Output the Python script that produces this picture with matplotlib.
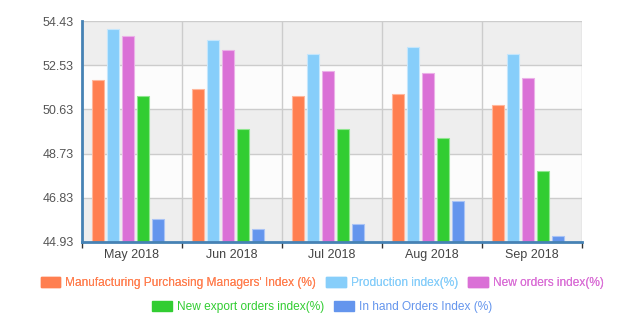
import matplotlib
matplotlib.use("Agg")
import matplotlib.pyplot as plt
from matplotlib.patches import Patch
import numpy as np

categories = ["May 2018", "Jun 2018", "Jul 2018", "Aug 2018", "Sep 2018"]
series_names = ["Manufacturing Purchasing Managers' Index (%)", "Production index(%)",
                "New orders index(%)", "New export orders index(%)", "In hand Orders Index (%)"]
pmi = [51.9, 51.5, 51.2, 51.3, 50.8]
production = [54.1, 53.6, 53.0, 53.3, 53.0]
new_orders = [53.8, 53.2, 52.3, 52.2, 52.0]
new_export = [51.2, 49.8, 49.8, 49.4, 48.0]
in_hand = [45.9, 45.5, 45.7, 46.7, 45.2]
yticks = [44.93, 46.83, 48.73, 50.63, 52.53, 54.43]

colors = ["#ff7f50", "#87cefa", "#da70d6", "#32cd32", "#6495ed"]
edges = ["#ffb79c", "#c4e6fc", "#ebb0e8", "#8fe68f", "#a9c3f5"]
all_series = [pmi, production, new_orders, new_export, in_hand]

plt.rcParams['font.family'] = ['Liberation Sans', 'DejaVu Sans']

fig = plt.figure(figsize=(6.21, 3.25), dpi=100)
ax = fig.add_axes([82/621, 1-242/325, 500/621, 221/325])

# alternating bands
for i in range(len(yticks)-1):
    col = "#eeeeee" if i % 2 == 0 else "#fcfcfc"
    ax.axhspan(yticks[i], yticks[i+1], color=col, zorder=0, lw=0)
for y in yticks[1:]:
    ax.axhline(y, color="#cccccc", lw=1, zorder=1)
for xg in range(1, 6):
    ax.axvline(xg, color="#cccccc", lw=1, zorder=1)

x = np.arange(len(categories))
for k, vals in enumerate(all_series):
    ax.bar(x + 0.10 + k*0.15, vals, width=0.12, align='edge', color=colors[k],
           edgecolor=edges[k], linewidth=0.8, zorder=2)

ax.set_xlim(0, 5)
ax.set_ylim(yticks[0], yticks[-1])
ax.set_yticks(yticks)
ax.set_yticklabels([f"{v:.2f}" for v in yticks])
ax.tick_params(axis='y', length=0, labelsize=9, labelcolor="#555555", pad=6)
ax.set_xticks(np.arange(6))
ax.set_xticklabels([])
ax.set_xticks(x + 0.5, minor=True)
ax.set_xticklabels(categories, minor=True)
ax.tick_params(axis='x', which='major', length=4, width=1, color="#333333", direction='out')
ax.tick_params(axis='x', which='minor', length=0, labelsize=9, labelcolor="#444444", pad=5)

for s in ["top", "right"]:
    ax.spines[s].set_visible(False)
ax.spines["left"].set_color("#4682b4")
ax.spines["left"].set_linewidth(2)
ax.spines["bottom"].set_color("#4682b4")
ax.spines["bottom"].set_linewidth(2)
ax.spines["left"].set_zorder(3)
ax.spines["bottom"].set_zorder(3)

handles = [Patch(facecolor=colors[k], edgecolor=colors[k]) for k in range(5)]

def make_legend(idx, ycenter):
    leg = fig.legend([handles[i] for i in idx], [series_names[i] for i in idx],
                     loc='center', bbox_to_anchor=(322/621, 1-ycenter/325), ncol=len(idx),
                     frameon=False, fontsize=8.6, handlelength=1.65, handleheight=0.9,
                     handletextpad=0.4, columnspacing=0.85, borderpad=0, borderaxespad=0)
    for t, i in zip(leg.get_texts(), idx):
        t.set_color(colors[i])
    return leg

fig.add_artist(make_legend([0, 1, 2], 283))
make_legend([3, 4], 307)

fig.savefig("out.png", dpi=100)
